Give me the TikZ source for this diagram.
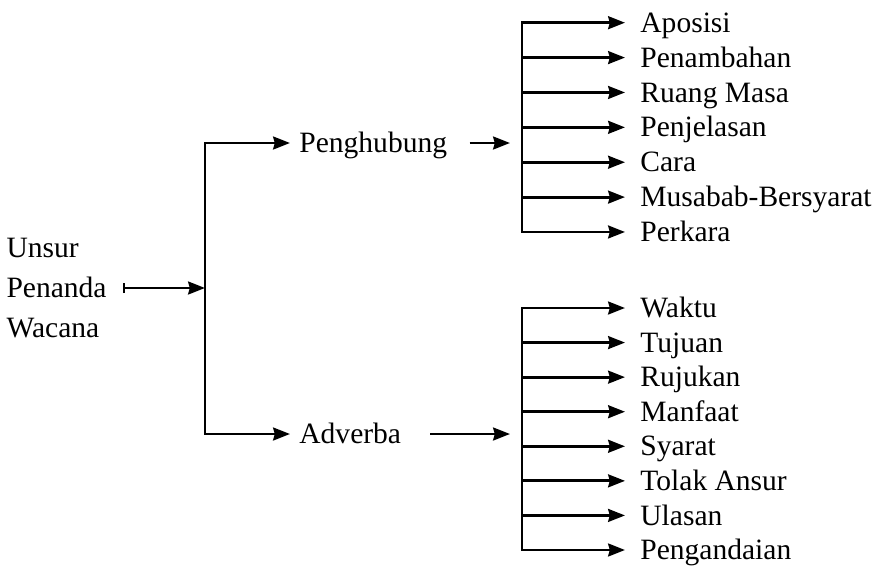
\documentclass[tikz,border=0pt]{standalone}
\usepackage{fontspec}
\setmainfont{LiberationSerif}[Extension=.ttf, UprightFont=*-Regular, BoldFont=*-Bold]
\usepackage{tikz}
\usetikzlibrary{arrows.meta, positioning, calc}

\begin{document}
\begin{tikzpicture}[x=0.025cm, y=-0.025cm, line width=2pt,
		font=\fontsize{21}{28.5}\selectfont,
		>={Stealth[length=0.42cm, width=0.32cm, inset=0.04cm]},
		mid/.style={anchor=west, inner xsep=0.2cm, text height=0.66cm, text depth=0.18cm},
		leaf/.style={anchor=west, inner xsep=0.35cm, text height=0.66cm, text depth=0.18cm}]
			\useasboundingbox (0,0) rectangle (880,566);
			
			% Root
			\node[anchor=east, align=left, inner xsep=0.375cm] (unsur) at (123,288) {Unsur\\Penanda\\Wacana};
			\coordinate (trunk) at (205,288);
			
			% Branches
			\node[mid] (peng) at (290,143) {Penghubung};
			\node[mid] (adv) at (290,434) {Adverba};
			
			\draw[{Bar[width=0.26cm, line width=1.4pt]}->] (unsur.east) -- (trunk);
			\draw[->] (adv.west -| trunk) |- (peng.west);
			\draw[->] (peng.west -| trunk) |- (adv.west);
			
			% Penghubung leaves
			\coordinate (pbar) at (522,127);
			\foreach \txt [count=\i] in {Aposisi, Penambahan, Ruang Masa, Penjelasan, Cara, Musabab-Bersyarat, Perkara}
				\node[leaf] (p\i) at (625, 22.7+34.88*\i-34.88) {\txt};
			\draw[->] (p7.west -| pbar) |- (p1.west);
			\draw[->] (p1.west -| pbar) |- (p7.west);
			\foreach \i in {2,...,6}
				\draw[->] (p\i.west -| pbar) -- (p\i.west);
			\draw[->] ([xshift=0.33cm]peng.east) -- ($(pbar |- peng.east)+(-12,0)$);
			
			% Adverba leaves
			\coordinate (abar) at (522,429);
			\foreach \txt [count=\i] in {Waktu, Tujuan, Rujukan, Manfaat, Syarat, Tolak Ansur, Ulasan, Pengandaian}
				\node[leaf] (a\i) at (625, 308+34.57*\i-34.57) {\txt};
			\draw[->] (a8.west -| abar) |- (a1.west);
			\draw[->] (a1.west -| abar) |- (a8.west);
			\foreach \i in {2,...,7}
				\draw[->] (a\i.west -| abar) -- (a\i.west);
			\draw[->] ([xshift=0.5cm]adv.east) -- ($(abar |- adv.east)+(-12,0)$);
		\end{tikzpicture}
\end{document}
